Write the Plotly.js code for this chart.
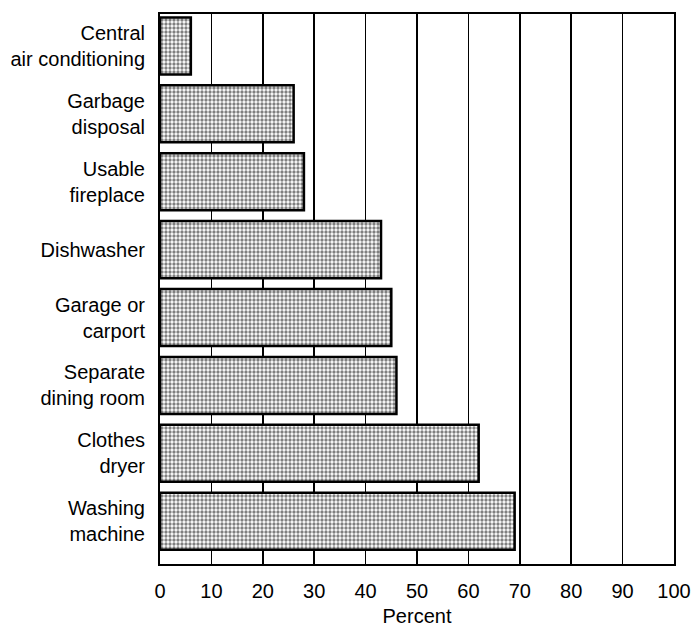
<!DOCTYPE html>
<html>
<head>
<meta charset="utf-8">
<script src="https://cdn.plot.ly/plotly-3.0.1.min.js"></script>
<style>
  html, body { margin: 0; padding: 0; background: #fff; }
  #chart { width: 697px; height: 633px; }
</style>
</head>
<body>
<div id="chart"></div>
<script>
const categories = [
  'Central<br>air conditioning',
  'Garbage<br>disposal',
  'Usable<br>fireplace',
  'Dishwasher',
  'Garage or<br>carport',
  'Separate<br>dining room',
  'Clothes<br>dryer',
  'Washing<br>machine'
];
const percents = [6, 26, 28, 43, 45, 46, 62, 69];
const tickValues = [0, 10, 20, 30, 40, 50, 60, 70, 80, 90, 100];
const tickLabels = ['0', '10', '20', '30', '40', '50', '60', '70', '80', '90', '100'];
const axisTitle = 'Percent';

const FONT = '"Liberation Sans", Arial, Helvetica, sans-serif';

const trace = {
  type: 'bar',
  orientation: 'h',
  x: percents,
  y: categories,
  marker: {
    color: '#ffffff',
    pattern: { shape: '.', size: 4, solidity: 0.55, fgcolor: '#000000', bgcolor: '#ffffff', fillmode: 'overlay' },
    line: { color: '#000000', width: 2.5 }
  },
  hoverinfo: 'skip'
};

const layout = {
  width: 697, height: 633,
  margin: { l: 160, r: 23, t: 14, b: 69 },
  paper_bgcolor: '#ffffff', plot_bgcolor: '#ffffff',
  showlegend: false,
  bargap: 0.16,
  font: { family: FONT, size: 20, color: '#000' },
  xaxis: {
    range: [0, 100],
    tickmode: 'array', tickvals: tickValues, ticktext: tickLabels,
    ticks: '', ticklabelstandoff: 8,
    tickfont: { family: FONT, size: 20, color: '#000' },
    showgrid: true, gridcolor: '#000', gridwidth: 1.6,
    zeroline: false,
    showline: true, linecolor: '#000', linewidth: 2, mirror: true,
    title: { text: axisTitle, font: { family: FONT, size: 20, color: '#000' }, standoff: 8 },
    automargin: false,
    fixedrange: true
  },
  yaxis: {
    type: 'category',
    categoryorder: 'array', categoryarray: categories,
    range: [7.63, -0.47],
    ticks: '', ticklabelstandoff: 9,
    tickfont: { family: FONT, size: 20, color: '#000' },
    showgrid: false, zeroline: false,
    showline: true, linecolor: '#000', linewidth: 2, mirror: true,
    automargin: false,
    fixedrange: true
  }
};

Plotly.newPlot('chart', [trace], layout, { staticPlot: true, displayModeBar: false });
</script>
</body>
</html>
